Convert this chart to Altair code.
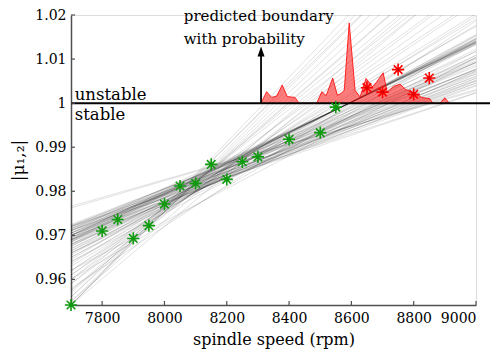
import altair as alt
import pandas as pd

# ---- data ----
line_speed_ends = [7700, 9000]
line_mu_7700 = [0.9542, 0.9542, 0.9542, 0.9550, 0.9560, 0.9575, 0.9590, 0.9600, 0.9560, 0.9542, 0.9550,
                0.9600, 0.9620, 0.9610, 0.9635, 0.9645, 0.9620, 0.9655,
                0.9665, 0.9675, 0.9680, 0.9685, 0.9690, 0.9695, 0.9700, 0.9705, 0.9710, 0.9688, 0.9692, 0.9698, 0.9690, 0.9700,
                0.9640, 0.9660, 0.9700, 0.9675, 0.9715, 0.9690, 0.9720, 0.9660, 0.9700, 0.9722, 0.9705, 0.9680, 0.9725, 0.9710,
                0.9690, 0.9718, 0.9700, 0.9678, 0.9722, 0.9695, 0.9712, 0.9688, 0.9705, 0.9720, 0.9695, 0.9710, 0.9762, 0.9766,
                0.9715, 0.9685, 0.9650, 0.9670, 0.9580, 0.9600, 0.9620,
                0.9720, 0.9712,
                0.9575, 0.9590, 0.9630, 0.9650, 0.9670, 0.9660, 0.9640, 0.9700, 0.9690, 0.9715, 0.9680, 0.9665,
                0.9705, 0.9685, 0.9695, 0.9610, 0.9570]
line_mu_9000 = [1.0502, 1.0480, 1.0458, 1.0430, 1.0401, 1.0370, 1.0341, 1.0317, 1.0454, 1.0315, 1.0341,
                1.0254, 1.0234, 1.0228, 1.0203, 1.0191, 1.0198, 1.0174,
                1.0153, 1.0148, 1.0146, 1.0144, 1.0141, 1.0139, 1.0137, 1.0134, 1.0132, 1.0142, 1.0140, 1.0138, 1.0141, 1.0137,
                1.0153, 1.0138, 1.0117, 1.0122, 1.0103, 1.0108, 1.0093, 1.0109, 1.0092, 1.0083, 1.0087, 1.0092, 1.0076, 1.0076,
                1.0078, 1.0067, 1.0070, 1.0073, 1.0060, 1.0062, 1.0056, 1.0057, 1.0051, 1.0045, 1.0046, 1.0041, 1.0031, 1.0028,
                1.0077, 1.0066, 1.0134, 1.0103, 1.0187, 1.0147, 1.0104,
                1.0024, 1.0023,
                1.0312, 1.0273, 1.0177, 1.0156, 1.0136, 1.0093, 1.0118, 1.0039, 1.0050, 1.0052, 1.0073, 1.0101,
                1.0096, 1.0145, 1.0138, 1.0277, 1.0369]

stable_speed = [7700, 7800, 7850, 7900, 7950, 8000, 8050, 8100, 8150, 8200, 8250, 8300, 8400, 8500, 8550]
stable_mu = [0.9542, 0.9710, 0.9736, 0.9693, 0.9722, 0.9771, 0.9812, 0.9818, 0.9861, 0.9827, 0.9867, 0.9878, 0.9918, 0.9933, 0.9991]

unstable_speed = [8650, 8700, 8750, 8800, 8850]
unstable_mu = [1.0035, 1.0025, 1.0076, 1.0020, 1.0057]

density_speed = [8310, 8328, 8344, 8360, 8378, 8394, 8419, 8432, 8489, 8505, 8519, 8540, 8555, 8567, 8577,
                 8593, 8612, 8628, 8647, 8668, 8681, 8702, 8715, 8735, 8756, 8775, 8798, 8826, 8852, 8861,
                 8884, 8900, 8914]
density_mu = [1.0, 1.0026, 1.0013, 1.0016, 1.0041, 1.0015, 1.0013, 1.0, 1.0, 1.0026, 1.0017, 1.0057, 1.0018, 1.0022, 1.0029,
              1.0182, 1.0029, 1.0014, 1.0056, 1.0037, 1.0048, 1.0069, 1.0025, 1.0038, 1.0043, 1.0031, 1.0023, 1.0013, 1.0010, 1.0,
              1.0, 1.0012, 1.0]

boundary_speed = [7700, 9045]
boundary_mu = 1.0
arrow_speed = 8310
arrow_mu = [1.0, 1.0115]
arrow_head_mu = 1.0117

x_ticks = [7800, 8000, 8200, 8400, 8600, 8800, 9000]
y_ticks = [0.96, 0.97, 0.98, 0.99, 1.0, 1.01, 1.02]

note_text = ["predicted boundary", "with probability"]
note_speed = [8062, 8062]
note_mu = [1.0186, 1.0135]
region_text = ["unstable", "stable"]
region_speed = [7712, 7712]
region_mu = [1.0007, 0.9962]

# ---- build tables ----
rows = []
for i, (a, b) in enumerate(zip(line_mu_7700, line_mu_9000)):
    rows.append({"id": i, "speed": line_speed_ends[0], "mu": a})
    rows.append({"id": i, "speed": line_speed_ends[1], "mu": b})
lines_df = pd.DataFrame(rows)
stable_df = pd.DataFrame({"speed": stable_speed, "mu": stable_mu})
unstable_df = pd.DataFrame({"speed": unstable_speed, "mu": unstable_mu})
dens_df = pd.DataFrame({"speed": density_speed, "mu": density_mu})
bound_df = pd.DataFrame({"speed": [boundary_speed[0]], "speed2": [boundary_speed[1]], "mu": [boundary_mu]})
arrow_df = pd.DataFrame({"speed": [arrow_speed], "mu": [arrow_mu[0]], "mu2": [arrow_mu[1]], "mh": [arrow_head_mu]})
note_df = pd.DataFrame({"t": note_text, "speed": note_speed, "mu": note_mu})
region_df = pd.DataFrame({"t": region_text, "speed": region_speed, "mu": region_mu})
xt_df = pd.DataFrame({"speed": x_ticks})
yt_df = pd.DataFrame({"mu": y_ticks})

FONT = "DejaVu Serif"
W, H = 405, 290

xs = alt.Scale(domain=[7700, 9000], nice=False, zero=False)
ys = alt.Scale(domain=[0.9542, 1.02], nice=False, zero=False)

x_axis = alt.Axis(values=x_ticks, format="d", grid=False, ticks=False, tickSize=0, labelPadding=6,
                  title="spindle speed (rpm)", titlePadding=6, labelFont=FONT, titleFont=FONT,
                  labelFontSize=14, titleFontSize=16, titleFontWeight="normal", labelColor="black",
                  titleColor="black", domainColor="#505050", domainWidth=1.5)
y_axis = alt.Axis(values=y_ticks, format=".2~f", grid=False, ticks=False, tickSize=0, labelPadding=5,
                  title="|μ₁,₂|", titlePadding=7, labelFont=FONT, titleFont=FONT,
                  labelFontSize=14, titleFontSize=17, titleFontWeight="normal", labelColor="black",
                  titleColor="black", domainColor="#505050", domainWidth=1.5)

gray = alt.Chart(lines_df).mark_line(clip=True, color="black", opacity=0.2, strokeWidth=0.6).encode(
    x=alt.X("speed:Q", scale=xs, axis=x_axis),
    y=alt.Y("mu:Q", scale=ys, axis=y_axis),
    detail="id:N",
)

dens = alt.Chart(dens_df).mark_area(color="red", opacity=0.5, clip=True,
                                     line={"color": "red", "strokeWidth": 1, "opacity": 0.8}).encode(
    x=alt.X("speed:Q", scale=xs),
    y=alt.Y("mu:Q", scale=ys),
    y2=alt.datum(1.0),
)

bound = alt.Chart(bound_df).mark_rule(color="black", strokeWidth=2).encode(
    x=alt.X("speed:Q", scale=xs), x2="speed2:Q", y=alt.Y("mu:Q", scale=ys)
)

arrow = alt.Chart(arrow_df).mark_rule(color="black", strokeWidth=1.8).encode(
    x=alt.X("speed:Q", scale=xs), y=alt.Y("mu:Q", scale=ys), y2="mu2:Q"
)
head = alt.Chart(arrow_df).mark_point(shape="M0,-1L0.7,1L-0.7,1Z", filled=True, color="black",
                                       opacity=1, size=100).encode(
    x=alt.X("speed:Q", scale=xs), y=alt.Y("mh:Q", scale=ys)
)

STAR = "M0,-1L0,1M-1,0L1,0M-0.7,-0.7L0.7,0.7M-0.7,0.7L0.7,-0.7"
green = alt.Chart(stable_df).mark_point(shape=STAR, filled=False, color="#109a10", strokeWidth=1.6,
                                        size=150, opacity=1).encode(
    x=alt.X("speed:Q", scale=xs), y=alt.Y("mu:Q", scale=ys)
)
red = alt.Chart(unstable_df).mark_point(shape=STAR, filled=False, color="#ff0000", strokeWidth=1.6,
                                        size=150, opacity=1).encode(
    x=alt.X("speed:Q", scale=xs), y=alt.Y("mu:Q", scale=ys)
)
red_dot = alt.Chart(unstable_df).mark_circle(color="#dd0000", size=12, opacity=1).encode(
    x=alt.X("speed:Q", scale=xs), y=alt.Y("mu:Q", scale=ys)
)

notes = alt.Chart(note_df).mark_text(font=FONT, fontSize=15, align="left", baseline="alphabetic",
                                     color="black").encode(
    x=alt.X("speed:Q", scale=xs), y=alt.Y("mu:Q", scale=ys), text="t:N"
)
regions = alt.Chart(region_df).mark_text(font=FONT, fontSize=16.5, align="left", baseline="alphabetic",
                                         color="black").encode(
    x=alt.X("speed:Q", scale=xs), y=alt.Y("mu:Q", scale=ys), text="t:N"
)

xticks = alt.Chart(xt_df).mark_rule(color="#505050", strokeWidth=1.2).encode(
    x=alt.X("speed:Q", scale=xs), y=alt.value(H), y2=alt.value(H - 4)
)
yticks = alt.Chart(yt_df).mark_rule(color="#505050", strokeWidth=1.2).encode(
    y=alt.Y("mu:Q", scale=ys), x=alt.value(0), x2=alt.value(4)
)

chart = alt.layer(gray, dens, bound, arrow, head, green, red, red_dot, notes, regions, xticks, yticks).properties(
    width=W, height=H,
    autosize=alt.AutoSizeParams(type="none"),
    padding={"left": 71, "top": 15, "right": 17, "bottom": 51},
).configure_view(stroke=None).configure(background="white")

chart.save("out.html", embed_options={"renderer": "svg", "actions": False})
